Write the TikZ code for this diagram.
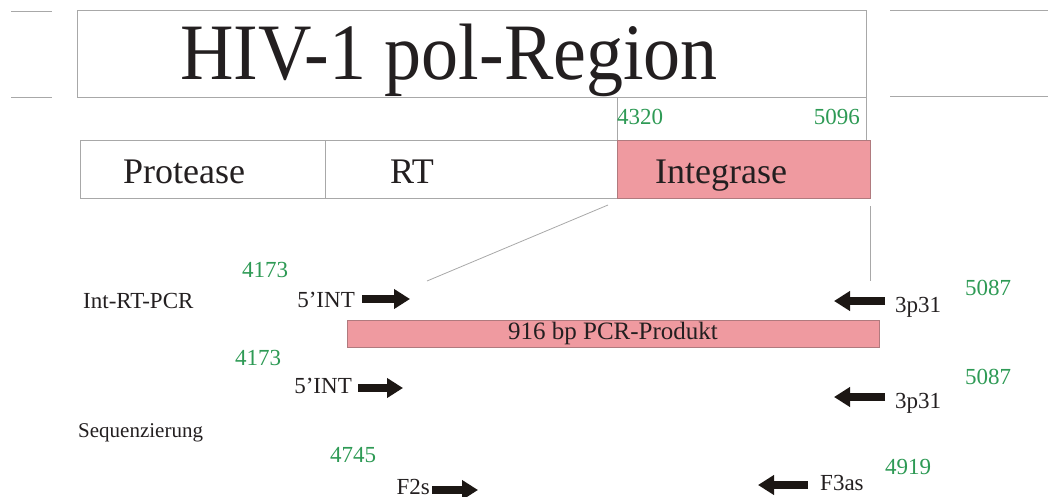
\documentclass[tikz,border=0pt]{standalone}
\usepackage{fontspec}
\setmainfont{Liberation Serif}
\newfontfamily\condfont[FakeStretch=0.925]{Liberation Serif}
\usetikzlibrary{arrows.meta}
\definecolor{pinkfill}{HTML}{EF9AA0}
\definecolor{pinkdraw}{HTML}{B07A7E}
\definecolor{numgreen}{HTML}{2E9A55}
\definecolor{linegray}{HTML}{A8A8A8}
\definecolor{arrowblack}{HTML}{1C1714}
\definecolor{textblack}{HTML}{231F20}
\begin{document}
\begin{tikzpicture}[x=1pt,y=-1pt,
  box/.style={draw=linegray, line width=0.9pt, inner sep=0pt, outer sep=0pt},
  pinkbox/.style={box, draw=pinkdraw, fill=pinkfill},
  conn/.style={draw=linegray, line width=0.8pt},
  lbl/.style={text=textblack, font=\fontsize{23}{26}\selectfont, inner sep=0pt},
  biglbl/.style={text=textblack, font=\fontsize{36}{40}\selectfont, inner sep=0pt},
  num/.style={text=numgreen, font=\fontsize{23}{26}\selectfont, inner sep=0pt},
  primer/.style={draw=arrowblack, line width=7.5pt, -{Triangle[length=16pt,width=19pt]}}
]
\useasboundingbox (0,0) rectangle (1048,497);

% title box and side stubs
\node[box, minimum width=789pt, minimum height=87pt] (title) at (471.5,53.5) {};
\node[text=textblack, font=\condfont\fontsize{80}{82}\selectfont, inner sep=0pt, anchor=base] (titletext) at (449,80) {HIV-1 pol-Region};
\coordinate (sl1a) at (11,11); \coordinate (sl1b) at (52,11);
\coordinate (sl2a) at (11,97); \coordinate (sl2b) at (52,97);
\coordinate (sr1a) at (890,10); \coordinate (sr1b) at (1048,10);
\coordinate (sr2a) at (890,96); \coordinate (sr2b) at (1048,96);
\draw[conn] (sl1a) -- (sl1b);
\draw[conn] (sl2a) -- (sl2b);
\draw[conn] (sr1a) -- (sr1b);
\draw[conn] (sr2a) -- (sr2b);

% pol bar
\node[box, minimum width=245pt, minimum height=58pt] (prot) at (202.5,169) {};
\node[box, minimum width=292pt, minimum height=58pt] (rt) at (471,169) {};
\node[pinkbox, minimum width=253pt, minimum height=58pt] (integ) at (743.5,169) {};
\node[biglbl, anchor=base] (prottext) at (184,183) {Protease};
\node[biglbl, anchor=base] (rttext) at (412,183) {RT};
\node[biglbl, anchor=base] (integtext) at (721,183) {Integrase};

% positions of integrase
\draw[conn] (integ.north west |- title.south) -- (integ.north west);
\draw[conn] (title.south east) -- (title.south east |- integ.north);
\node[num, anchor=base west] (n4320) at (617,125) {4320};
\node[num, anchor=base east] (n5096) at (860,125) {5096};

% zoom lines
\coordinate (zl1) at (608,205);
\coordinate (zl2) at (427,281);
\coordinate (zr1) at (870,206);
\coordinate (zr2) at (870,281);
\draw[conn] (zl1) -- (zl2);
\draw[conn] (zr1) -- (zr2);

% Int-RT-PCR row
\node[lbl, anchor=base west] (intrt) at (83,308) {Int-RT-PCR};
\node[num, anchor=base] (n4173a) at (265,277) {4173};
\node[lbl, anchor=base east] (int5a) at (355,307) {5’INT};
\coordinate (a1s) at (362,299); \coordinate (a1e) at (410,299);
\draw[primer] (a1s) -- (a1e);
\coordinate (a2s) at (885,301); \coordinate (a2e) at (834,301);
\draw[primer] (a2s) -- (a2e);
\node[lbl, anchor=base west] (p31a) at (895,312) {3p31};
\node[num, anchor=base west] (n5087a) at (965,295) {5087};

% PCR product
\node[pinkbox, minimum width=532pt, minimum height=27pt] (pcr) at (613,333.5) {};
\node[lbl, font=\fontsize{25}{27}\selectfont] (pcrtext) at (pcr.center) {916 bp PCR-Produkt};

% second row
\node[num, anchor=base] (n4173b) at (258,365) {4173};
\node[lbl, anchor=base east] (int5b) at (352,393) {5’INT};
\coordinate (a3s) at (358,388); \coordinate (a3e) at (403,388);
\draw[primer] (a3s) -- (a3e);
\coordinate (a4s) at (885,397); \coordinate (a4e) at (834,397);
\draw[primer] (a4s) -- (a4e);
\node[lbl, anchor=base west] (p31b) at (895,408) {3p31};
\node[num, anchor=base west] (n5087b) at (965,384) {5087};

% Sequenzierung
\node[lbl, font=\fontsize{21}{24}\selectfont, anchor=base west] (seq) at (78,437) {Sequenzierung};
\node[num, anchor=base west] (n4745) at (330,462) {4745};
\node[lbl, anchor=base east] (f2s) at (430,494) {F2s};
\coordinate (a5s) at (432,490); \coordinate (a5e) at (478,490);
\draw[primer] (a5s) -- (a5e);
\coordinate (a6s) at (808,485); \coordinate (a6e) at (758,485);
\draw[primer] (a6s) -- (a6e);
\node[lbl, anchor=base west] (f3as) at (820,490) {F3as};
\node[num, anchor=base west] (n4919) at (885,474) {4919};
\end{tikzpicture}
\end{document}
